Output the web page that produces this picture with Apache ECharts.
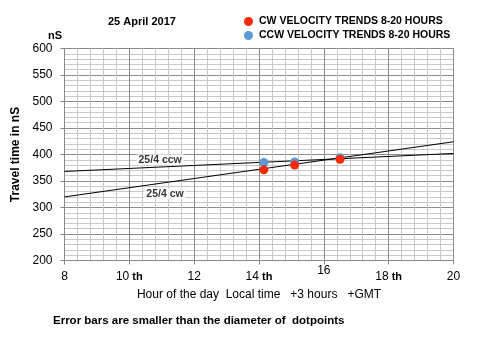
<!DOCTYPE html>
<html>
<head>
<meta charset="utf-8">
<script src="https://cdn.jsdelivr.net/npm/echarts@6/dist/echarts.min.js"></script>
<style>
  html, body { margin: 0; padding: 0; background: #fff; }
  #chart { width: 480px; height: 340px; }
</style>
</head>
<body>
<div id="chart"></div>
<script>
// Measured travel times (nS) by hour of day
const cwHours = [14.15, 15.1, 16.5];
const cwTimes = [371, 380, 391];
const ccwHours = [14.15, 15.1, 16.5];
const ccwTimes = [385, 386, 394];

// Linear trend lines across 8-20 hours
const trendHours = [8, 20];
const cwTrend = [320, 424];
const ccwTrend = [368, 402];

// Trend line captions
const captionText = ['25/4 ccw', '25/4 cw'];
const captionHours = [10.95, 11.1];
const captionTimes = [390, 326];

const seriesNames = ['CW VELOCITY TRENDS 8-20 HOURS', 'CCW VELOCITY TRENDS 8-20 HOURS'];
const xTickLabels = { 8: '8', 10: '10 th', 12: '12', 14: '14 th', 16: '16', 18: '18 th', 20: '20' };

const FONT = 'Liberation Sans, Arial, sans-serif';
const chart = echarts.init(document.getElementById('chart'));

const zip = (a, b) => a.map((v, i) => [v, b[i]]);

chart.setOption({
  animation: false,
  backgroundColor: '#ffffff',
  textStyle: { fontFamily: FONT },
  grid: { left: 64.5, right: 26.5, top: 48.5, bottom: 79.5, show: true, borderColor: '#888', borderWidth: 1 },
  title: [
    { text: '25 April 2017', left: 108, top: 16, padding: 0, textStyle: { fontSize: 11, fontWeight: 'bold', color: '#000', fontFamily: FONT } },
    { text: 'nS', left: 48, top: 30, padding: 0, textStyle: { fontSize: 11, fontWeight: 'bold', color: '#000', fontFamily: FONT } },
    { text: 'Error bars are smaller than the diameter of  dotpoints', left: 53, top: 315, padding: 0, textStyle: { fontSize: 11.5, fontWeight: 'bold', color: '#000', fontFamily: FONT } }
  ],
  legend: {
    orient: 'vertical', left: 244, top: 16, itemGap: 3, padding: 0,
    itemWidth: 9, itemHeight: 9, icon: 'circle',
    textStyle: { fontSize: 10.5, fontWeight: 'bold', color: '#000', fontFamily: FONT, padding: [0, 0, 0, 1] },
    data: seriesNames
  },
  xAxis: {
    type: 'value', min: 8, max: 20, interval: 2,
    name: 'Hour of the day  Local time   +3 hours   +GMT',
    nameLocation: 'middle', nameGap: 28,
    nameTextStyle: { fontSize: 12, color: '#000', fontFamily: FONT },
    axisLine: { show: true, onZero: false, lineStyle: { color: '#888' } },
    axisTick: { show: true, length: 4, lineStyle: { color: '#888' } },
    minorTick: { show: false, splitNumber: 5 },
    splitLine: { show: true, lineStyle: { color: '#8c8c8c', width: 1 } },
    minorSplitLine: { show: true, lineStyle: { color: '#c8c8c8', width: 1 } },
    axisLabel: {
      margin: 4,
      formatter: v => {
        const s = xTickLabels[v] || '';
        if (s.endsWith(' th')) return '{n|' + s.slice(0, -3) + '}{t| th}';
        if (v === 16) return '{u|' + s + '}';
        return '{n|' + s + '}';
      },
      rich: {
        n: { fontSize: 12, color: '#000', fontFamily: FONT, padding: [6, 0, 0, 0] },
        t: { fontSize: 11, fontWeight: 'bold', color: '#000', fontFamily: FONT, padding: [6, 0, 0, 0] },
        u: { fontSize: 12, color: '#000', fontFamily: FONT, padding: [0, 0, 0, 0] }
      }
    }
  },
  yAxis: {
    type: 'value', min: 200, max: 600, interval: 50,
    name: 'Travel time in nS', nameLocation: 'middle', nameRotate: 90, nameGap: 35,
    nameTextStyle: { fontSize: 12, fontWeight: 'bold', color: '#000', fontFamily: FONT },
    axisLine: { show: true, lineStyle: { color: '#888' } },
    axisTick: { show: true, length: 4, lineStyle: { color: '#888' } },
    minorTick: { show: false, splitNumber: 5 },
    splitLine: { show: true, lineStyle: { color: '#8c8c8c', width: 1 } },
    minorSplitLine: { show: true, lineStyle: { color: '#c8c8c8', width: 1 } },
    axisLabel: { fontSize: 12, color: '#000', fontFamily: FONT, margin: 12 }
  },
  series: [
    {
      name: 'cw trend', type: 'line', data: zip(trendHours, cwTrend),
      symbol: 'none', lineStyle: { color: '#000', width: 1 }, z: 3, silent: true
    },
    {
      name: 'ccw trend', type: 'line', data: zip(trendHours, ccwTrend),
      symbol: 'none', lineStyle: { color: '#000', width: 1 }, z: 3, silent: true
    },
    {
      name: seriesNames[1], type: 'scatter', data: zip(ccwHours, ccwTimes),
      symbolSize: 9, itemStyle: { color: '#5b9bd5', opacity: 1 }, z: 4
    },
    {
      name: seriesNames[0], type: 'scatter', data: zip(cwHours, cwTimes),
      symbolSize: 9, itemStyle: { color: '#f52a0a', opacity: 1 }, z: 5
    },
    {
      name: 'captions', type: 'scatter', symbol: 'circle', symbolSize: 1, silent: true, z: 6,
      itemStyle: { color: 'rgba(0,0,0,0)' },
      data: captionText.map((t, i) => ({ value: [captionHours[i], captionTimes[i]], name: t })),
      label: {
        show: true, position: 'inside', formatter: p => p.name,
        fontSize: 10.5, fontWeight: 'bold', color: '#000', fontFamily: FONT,
        backgroundColor: '#fff', padding: [0, 2, 0, 2]
      }
    }
  ]
});
</script>
</body>
</html>
